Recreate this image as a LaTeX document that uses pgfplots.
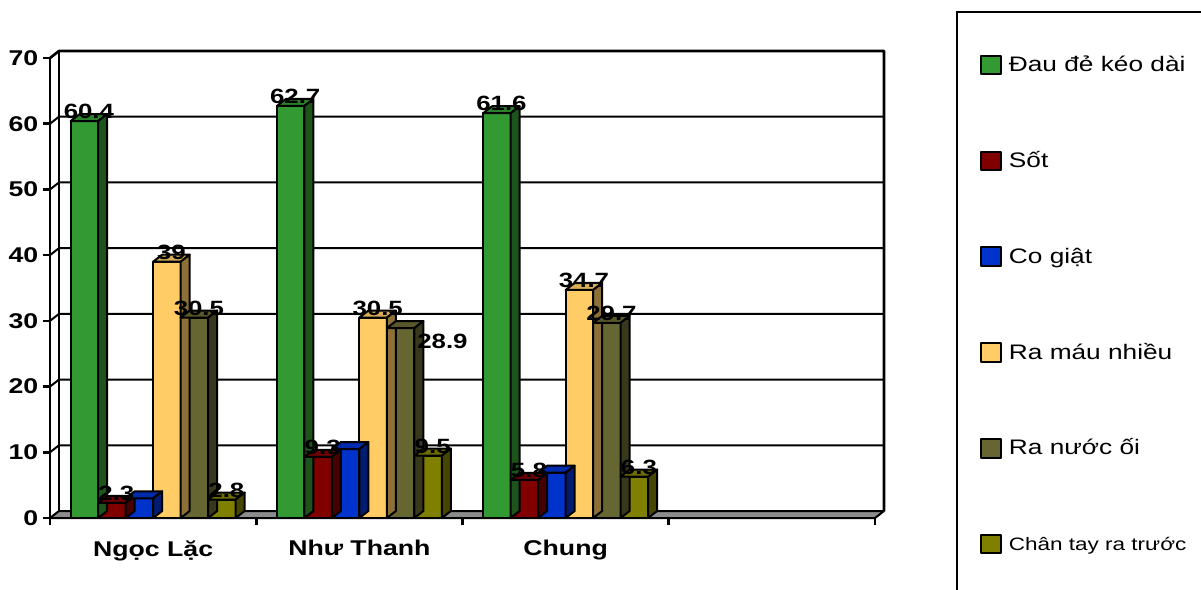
\documentclass[border=0pt]{standalone}
\usepackage{pgfplots}
\pgfplotsset{compat=1.18}
\usepackage{pgfplotstable}
\usepackage{fontspec}
\setmainfont{Liberation Sans}[FakeStretch=1.25]

% depth of the 3-D box (horizontal / vertical offset of the back wall)
\def\dx{6.75pt}
\def\dy{5.25pt}
% canvas length of one y unit (345pt for 70 units)
\def\yu{4.928571pt}
% bar width on the canvas
\def\bwpt{20.625pt}

\definecolor{cDau}{HTML}{339933}
\definecolor{cSot}{HTML}{800000}
\definecolor{cCo}{HTML}{0033CC}
\definecolor{cMau}{HTML}{FFCC66}
\definecolor{cOi}{HTML}{666633}
\definecolor{cChan}{HTML}{808000}

\pgfplotstableread{
x dau  sot co   mau  oi   chan
0 60.4 2.3 3.0  39   30.5 2.8
1 62.7 9.3 10.5 30.5 28.9 9.5
2 61.6 5.8 6.9  34.7 29.7 6.3
}\data

\pgfdeclareplotmark{void}{}

\pgfplotsset{
  front bar/.style={ybar, bar shift=0pt, bar width=\bwpt,
    fill=#1, draw=black, line width=1.5pt, line join=round,
    legend image code/.code={\draw[fill=#1, line width=1.5pt] (0pt,-7pt) rectangle (15pt,7pt);}},
  box faces/.style={forget plot, scatter, only marks, mark=void,
    visualization depends on={rawy \as \barh},
    scatter/@pre marker code/.code={
      \path[fill=#1!85!black, draw=black, line width=1.5pt, line join=round]
        (-0.5*\bwpt,0pt) -- (0.5*\bwpt,0pt) -- ++(\dx,\dy) -- ++(-\bwpt,0pt) -- cycle;
      \path[fill=#1!55!black, draw=black, line width=1.5pt, line join=round]
        (0.5*\bwpt,0pt) -- ++(\dx,\dy) -- ++(0pt,-\barh*\yu) -- ++(-\dx,-\dy) -- cycle;
    },
    scatter/@post marker code/.code={}},
  value labels/.style={forget plot, ybar, bar shift=0pt, bar width=\bwpt,
    draw=none, fill=none, nodes near coords,
    every node near coord/.append style={anchor=center, xshift=3.4pt, yshift=7.1pt,
      font=\fontsize{15.5}{17}\selectfont\bfseries, inner sep=0pt}},
}

\begin{document}
\begin{tikzpicture}
\useasboundingbox (0pt,0pt) rectangle (900.75pt,441.75pt);
\begin{axis}[
  at={(37.5pt,53.25pt)}, anchor=south west,
  scale only axis, width=618.75pt, height=345pt,
  xmin=-0.5, xmax=3.5, ymin=0, ymax=70,
  enlargelimits=false, clip=false,
  axis lines*=left,
  axis line style={line width=2pt},
  every tick/.style={black, line width=2pt},
  tick align=outside,
  major tick length=5.25pt, minor tick length=5.25pt,
  ytick={0,10,...,70},
  xtick={0,1,2}, xticklabels={Ngọc Lặc, Như Thanh, Chung},
  major x tick style={draw=none},
  minor xtick={-0.5,0.5,1.5,2.5,3.5},
  /pgf/number format/assume math mode=true,
  ticklabel style={font=\fontsize{16}{18}\selectfont\bfseries},
  xticklabel style={yshift=-8pt},
  legend style={at={(axis description cs:1.12727,1.0113)}, anchor=north west,
    draw=none, fill=none, inner sep=0pt, row sep=53.85pt, column sep=5pt,
    nodes={inner sep=0pt, text height=14pt, text depth=4pt, anchor=west},
    font=\fontsize{15.75}{18}\selectfont},
  legend cell align=left,
]
% floor
\path[fill=gray!90, draw=black, line width=1.5pt, line join=round]
  (axis cs:-0.5,0) -- (axis cs:3.5,0) -- ++(\dx,\dy)
  -- ([xshift=\dx,yshift=\dy]axis cs:-0.5,0) -- cycle;
% gridlines on the side and back walls
\pgfplotsinvokeforeach{10,20,30,40,50,60}{
  \draw[line width=1.5pt] (axis cs:-0.5,#1) -- ++(\dx,\dy)
    -- ([xshift=\dx,yshift=\dy]axis cs:3.5,#1);
}
% wall edges
\draw[line width=2pt, line join=round]
  (axis cs:-0.5,70) -- ++(\dx,\dy) -- ([xshift=\dx,yshift=\dy]axis cs:3.5,70)
  -- ([xshift=\dx,yshift=\dy]axis cs:3.5,0);
\draw[line width=1.5pt] ([xshift=\dx,yshift=\dy]axis cs:-0.5,0)
  -- ([xshift=\dx,yshift=\dy]axis cs:-0.5,70);

% bars: front face, then top and side faces
\addplot[front bar=cDau] table[x expr=\thisrow{x}-0.33333, y=dau] {\data};
\addplot[box faces=cDau] table[x expr=\thisrow{x}-0.33333, y=dau] {\data};
\addplot[front bar=cSot] table[x expr=\thisrow{x}-0.2, y=sot] {\data};
\addplot[box faces=cSot] table[x expr=\thisrow{x}-0.2, y=sot] {\data};
\addplot[front bar=cCo] table[x expr=\thisrow{x}-0.066667, y=co] {\data};
\addplot[box faces=cCo] table[x expr=\thisrow{x}-0.066667, y=co] {\data};
\addplot[front bar=cMau] table[x expr=\thisrow{x}+0.066667, y=mau] {\data};
\addplot[box faces=cMau] table[x expr=\thisrow{x}+0.066667, y=mau] {\data};
\addplot[front bar=cOi] table[x expr=\thisrow{x}+0.2, y=oi] {\data};
\addplot[box faces=cOi] table[x expr=\thisrow{x}+0.2, y=oi] {\data};
\addplot[front bar=cChan] table[x expr=\thisrow{x}+0.33333, y=chan] {\data};
\addplot[box faces=cChan] table[x expr=\thisrow{x}+0.33333, y=chan] {\data};

% value labels
\addplot[value labels] table[x expr=\thisrow{x}-0.33333, y=dau] {\data};
\addplot[value labels] table[x expr=\thisrow{x}-0.2, y=sot] {\data};
\addplot[value labels] table[x expr=\thisrow{x}+0.066667, y=mau] {\data};
\addplot[value labels, skip coords between index={1}{2}] table[x expr=\thisrow{x}+0.2, y=oi] {\data};
\addplot[value labels, skip coords between index={0}{1}, skip coords between index={2}{3},
  every node near coord/.append style={anchor=west, xshift=8.9pt, yshift=-16.85pt}]
  table[x expr=\thisrow{x}+0.2, y=oi] {\data};
\addplot[value labels] table[x expr=\thisrow{x}+0.33333, y=chan] {\data};

\legend{Đau đẻ kéo dài, Sốt, Co giật, Ra máu nhiều, Ra nước ối,
  {\fontsize{13.5}{16}\selectfont Chân tay ra trước}}
\end{axis}
% legend frame
\draw[line width=1.5pt] (717.75pt,-10pt) -- (717.75pt,432.75pt) -- (910pt,432.75pt);
\end{tikzpicture}
\end{document}
